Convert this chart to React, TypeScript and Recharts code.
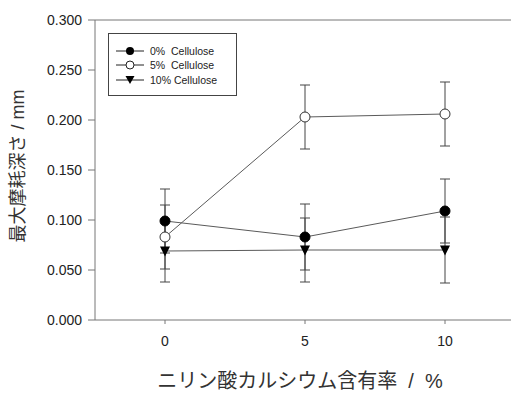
import {
  ComposedChart,
  Line,
  ErrorBar,
  XAxis,
  YAxis,
  Legend,
  ReferenceLine,
} from "recharts";

// calcium diphosphate content (%)
const contents = [0, 5, 10];

// max wear depth (mm) and error for each cellulose level
const cell0 = [0.099, 0.083, 0.109];
const err0 = [0.032, 0.033, 0.032];
const cell5 = [0.083, 0.203, 0.206];
const err5 = [0.032, 0.032, 0.032];
const cell10 = [0.069, 0.070, 0.070];
const err10 = [0.031, 0.032, 0.033];

const xTicks = [0, 5, 10];
const yTicks = [0, 0.05, 0.1, 0.15, 0.2, 0.25, 0.3];

const seriesNames = ["0%  Cellulose", "5%  Cellulose", "10% Cellulose"];

const table = contents.map((x, i) => ({
  x,
  c0: cell0[i],
  e0: err0[i],
  c5: cell5[i],
  e5: err5[i],
  c10: cell10[i],
  e10: err10[i],
}));

const FONT = "'Liberation Sans', Arial, 'Noto Sans CJK JP', sans-serif";
const AXIS = "#777";
const LINE = "#5a5a5a";

function Triangle(props: any) {
  const { cx, cy, index } = props;
  if (cx == null || cy == null) return <g key={index} />;
  return (
    <path
      key={index}
      d={`M${cx - 5},${cy - 4.5} L${cx + 5},${cy - 4.5} L${cx},${cy + 5.5} Z`}
      fill="#000"
    />
  );
}

function LegendMarker({ kind }: { kind: number }) {
  return (
    <svg width={30} height={12} style={{ display: "block" }}>
      <line x1={1} y1={6} x2={29} y2={6} stroke="#222" strokeWidth={1} />
      {kind === 0 && <circle cx={15} cy={6} r={4} fill="#000" />}
      {kind === 1 && <circle cx={15} cy={6} r={4} fill="#fff" stroke="#222" />}
      {kind === 2 && <path d="M10.5,2 L19.5,2 L15,10 Z" fill="#000" />}
    </svg>
  );
}

function LegendBox() {
  const rowTops = [11, 25, 40];
  return (
    <div
      style={{
        position: "relative",
        width: 129,
        height: 63,
        border: "1px solid #444",
        boxSizing: "border-box",
        background: "#fff",
        fontFamily: FONT,
      }}
    >
      {seriesNames.map((name, i) => (
        <div
          key={name}
          style={{
            position: "absolute",
            left: 6,
            top: rowTops[i],
            display: "flex",
            alignItems: "center",
            height: 12,
          }}
        >
          <LegendMarker kind={i} />
          <span
            style={{
              marginLeft: 5,
              fontSize: 10.5,
              color: "#222",
              whiteSpace: "pre",
              lineHeight: "12px",
            }}
          >
            {name}
          </span>
        </div>
      ))}
    </div>
  );
}

function YTitle() {
  return (
    <text
      transform="translate(18,166) rotate(-90)"
      textAnchor="middle"
      dominantBaseline="central"
      fontSize={18}
      fill="#333"
      fontFamily={FONT}
      style={{ whiteSpace: "pre" }}
    >
      最大摩耗深さ / mm
    </text>
  );
}

function XTitle() {
  return (
    <text
      x={300}
      y={381}
      textAnchor="middle"
      dominantBaseline="central"
      fontSize={20}
      fill="#333"
      fontFamily={FONT}
      style={{ whiteSpace: "pre" }}
    >
      ニリン酸カルシウム含有率  /  %
    </text>
  );
}

export default function App() {
  return (
    <div
      style={{
        position: "fixed",
        left: 0,
        top: 0,
        width: 511,
        height: 393,
        overflow: "hidden",
        background: "#fff",
      }}
    >
      <ComposedChart
        width={515}
        height={393}
        data={table}
        margin={{ top: 20, right: 0, bottom: 0, left: 0 }}
      >
        <XAxis
          dataKey="x"
          type="number"
          domain={[-2.5, 12.5]}
          ticks={xTicks}
          height={73}
          tickSize={4}
          tickMargin={12}
          axisLine={{ stroke: AXIS }}
          tickLine={{ stroke: AXIS }}
          tick={{ fill: "#222", fontSize: 14, fontFamily: FONT }}
          label={<XTitle />}
        />
        <YAxis
          type="number"
          domain={[0, 0.3]}
          ticks={yTicks}
          width={95}
          tickSize={7}
          tickMargin={6}
          tickFormatter={(v: number) => v.toFixed(3)}
          axisLine={{ stroke: AXIS }}
          tickLine={{ stroke: AXIS }}
          tick={{ fill: "#222", fontSize: 14, fontFamily: FONT }}
          label={<YTitle />}
        />
        <ReferenceLine y={0.3} stroke={AXIS} />
        <Legend
          layout="vertical"
          align="center"
          verticalAlign="middle"
          content={() => <LegendBox />}
          wrapperStyle={{ position: "absolute", left: 108, top: 33, width: 129, height: 63 }}
        />
        <Line
          dataKey="c10"
          stroke={LINE}
          strokeWidth={1}
          dot={(p: any) => <Triangle {...p} />}
          activeDot={false}
          isAnimationActive={false}
        >
          <ErrorBar dataKey="e10" direction="y" width={5} stroke="#444" strokeWidth={1} />
        </Line>
        <Line
          dataKey="c0"
          stroke={LINE}
          strokeWidth={1}
          dot={{ r: 5, fill: "#000", stroke: "#000", strokeWidth: 1 }}
          activeDot={false}
          isAnimationActive={false}
        >
          <ErrorBar dataKey="e0" direction="y" width={5} stroke="#444" strokeWidth={1} />
        </Line>
        <Line
          dataKey="c5"
          stroke={LINE}
          strokeWidth={1}
          dot={{ r: 5, fill: "#fff", stroke: "#333", strokeWidth: 1 }}
          activeDot={false}
          isAnimationActive={false}
        >
          <ErrorBar dataKey="e5" direction="y" width={5} stroke="#444" strokeWidth={1} />
        </Line>
      </ComposedChart>
    </div>
  );
}
